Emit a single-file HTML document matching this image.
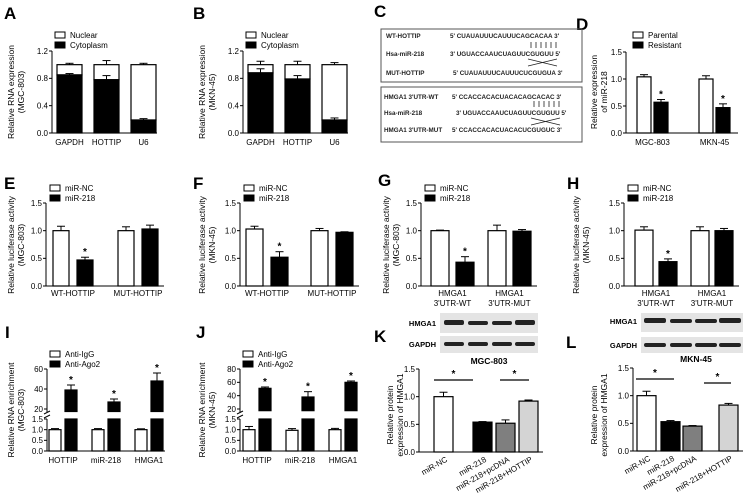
<!DOCTYPE html>
<html><head><meta charset="utf-8"><style>
body{margin:0;background:#fff}
svg{display:block;font-family:"Liberation Sans",Arial,sans-serif}
</style></head><body>
<svg id="fig" width="752" height="494" viewBox="0 0 752 494" xmlns="http://www.w3.org/2000/svg">
<g font-weight="bold" font-size="17">
<text x="4" y="19">A</text><text x="193" y="19">B</text><text x="374" y="17">C</text><text x="576" y="30">D</text>
<text x="4" y="189">E</text><text x="193" y="189">F</text><text x="378" y="186">G</text><text x="567" y="189">H</text>
<text x="5" y="338">I</text><text x="196" y="338">J</text><text x="374" y="342">K</text><text x="566" y="348">L</text>
</g>
<g font-size="6.3" font-weight="bold" fill="#222">
<rect x="381" y="29" width="201" height="53" fill="none" stroke="#555"/>
<rect x="381" y="87" width="201" height="55" fill="none" stroke="#555"/>
<text x="386" y="38">WT-HOTTIP</text><text x="450" y="38">5' CUAUAUUUCAUUUCAGCACAA 3'</text>
<text x="386" y="56">Hsa-miR-218</text><text x="450" y="56">3' UGUACCAAUCUAGUUCGUGUU 5'</text>
<text x="386" y="75">MUT-HOTTIP</text><text x="453" y="75">5' CUAUAUUUCAUUUCUCGUGUA 3'</text>
<text x="384" y="99">HMGA1 3'UTR-WT</text><text x="452" y="99">5' CCACCACACUACACAGCACAC 3'</text>
<text x="384" y="115">Hsa-miR-218</text><text x="456" y="115">3' UGUACCAAUCUAGUUCGUGUU 5'</text>
<text x="384" y="132">HMGA1 3'UTR-MUT</text><text x="452" y="132">5' CCACCACACUACACUCGUGUC 3'</text>
<g stroke="#222" stroke-width="0.8">
<path d="M531 42v6M536 42v6M541 42v6M546 42v6M551 42v6M556 42v6"/>
<path d="M528 59L557 66M528 66L557 59"/>
<path d="M534 101v6M539 101v6M544 101v6M549 101v6M554 101v6M559 101v6"/>
<path d="M531 118L560 125M531 125L560 118"/>
</g></g>
<g>
<rect x="440" y="313" width="98" height="20" fill="#e4e4e4"/><rect x="440" y="336" width="98" height="17" fill="#e4e4e4"/>
<rect x="641" y="313" width="102" height="19" fill="#e4e4e4"/><rect x="641" y="337" width="102" height="16" fill="#e4e4e4"/>
<g fill="#222">
<rect x="444" y="320" width="20" height="5" rx="2"/><rect x="468" y="321" width="20" height="4" rx="2"/><rect x="492" y="321" width="20" height="4" rx="2"/><rect x="515" y="320" width="20" height="5" rx="2"/>
<rect x="444" y="342" width="20" height="4" rx="2"/><rect x="468" y="342" width="20" height="4" rx="2"/><rect x="492" y="342" width="20" height="4" rx="2"/><rect x="515" y="342" width="20" height="4" rx="2"/>
<rect x="644" y="318" width="22" height="5" rx="2"/><rect x="670" y="319" width="22" height="4" rx="2"/><rect x="695" y="319" width="22" height="4" rx="2"/><rect x="719" y="318" width="22" height="5" rx="2"/>
<rect x="644" y="343" width="22" height="4" rx="2"/><rect x="670" y="343" width="22" height="4" rx="2"/><rect x="695" y="343" width="22" height="4" rx="2"/><rect x="719" y="343" width="22" height="4" rx="2"/>
</g>
<g font-size="7.5" font-weight="bold" text-anchor="end">
<text x="436" y="326">HMGA1</text><text x="436" y="347">GAPDH</text>
<text x="637" y="324">HMGA1</text><text x="637" y="348">GAPDH</text>
</g>
<g font-size="8.5" font-weight="bold" text-anchor="middle"><text x="489" y="364">MGC-803</text><text x="696" y="362">MKN-45</text></g>
</g>
</svg>
<script>
// ---- data ----
const catsA = ["GAPDH","HOTTIP","U6"];
const cytoA = [0.85,0.78,0.19], cytoErrA = [0.02,0.06,0.02], totalErrA = [0.02,0.06,0.02];
const cytoB = [0.88,0.79,0.19], cytoErrB = [0.06,0.05,0.03], totalErrB = [0.05,0.05,0.03];
const ticksA = [0,0.4,0.8,1.2];
const catsD = ["MGC-803","MKN-45"];
const parentalD = [1.04,1.00], parentalErrD = [0.04,0.06];
const resistantD = [0.57,0.47], resistantErrD = [0.05,0.07];
const ticks15 = [0,0.5,1.0,1.5];
const catsEF = ["WT-HOTTIP","MUT-HOTTIP"];
const catsGH = ["HMGA1|3'UTR-WT","HMGA1|3'UTR-MUT"];
const ncE=[1.0,1.0], ncErrE=[0.08,0.07], mirE=[0.47,1.03], mirErrE=[0.05,0.07];
const ncF=[1.03,1.0], ncErrF=[0.05,0.04], mirF=[0.52,0.97], mirErrF=[0.1,0.01];
const ncG=[1.0,1.0], ncErrG=[0.01,0.1], mirG=[0.43,0.99], mirErrG=[0.1,0.03];
const ncH=[1.01,1.0], ncErrH=[0.06,0.07], mirH=[0.44,1.0], mirErrH=[0.05,0.04];
const catsIJ = ["HOTTIP","miR-218","HMGA1"];
const iggI=[1.0,1.0,1.0], iggErrI=[0.05,0.05,0.04], agoI=[39,27,48], agoErrI=[5,3,8];
const iggJ=[1.0,0.97,1.0], iggErrJ=[0.15,0.08,0.06], agoJ=[51,38,60], agoErrJ=[2,8,2];
const lowTicksIJ=[0,0.5,1.0,1.5], upTicksI=[20,40,60], upTicksJ=[20,40,60,80];
const catsKL = ["miR-NC","miR-218","miR-218+pcDNA","miR-218+HOTTIP"];
const valK=[1.0,0.54,0.52,0.92], errK=[0.08,0.01,0.06,0.02];
const valL=[1.0,0.53,0.45,0.83], errL=[0.08,0.02,0.01,0.03];
const fillsKL=["#fff","#000","#7f7f7f","#d4d4d4"];

// ---- drawing ----
const svg=document.getElementById('fig');
const NS="http://www.w3.org/2000/svg";
function el(tag,attrs,parent,txt){const e=document.createElementNS(NS,tag);for(const k in attrs)e.setAttribute(k,attrs[k]);if(txt!==undefined)e.textContent=txt;(parent||svg).appendChild(e);return e;}
function scale(y0,y1,v0,v1){return v=>y0+(v-v0)*(y1-y0)/(v1-v0);}
function yAxis(g,x,ys,ticks,fmt,y0,y1){
  el('line',{x1:x,x2:x,y1:y0,y2:y1,stroke:'#000','stroke-width':1},g);
  ticks.forEach(t=>{const y=ys(t);el('line',{x1:x-3,x2:x,y1:y,y2:y,stroke:'#000'},g);
    const tx=el('text',{x:x-4,y:y+2.8,'font-size':8,'text-anchor':'end'},g,fmt(t));
    
    });
}
function yTitle(g,x,y,lines){lines.forEach((l,i)=>{const t=el('text',{x:0,y:0,'font-size':8.5,'text-anchor':'middle',transform:`translate(${x+i*10},${y}) rotate(-90)`},g,l);
  
  });}
function bar(g,x,w,ys,v,err,fill,from){const y=ys(v),yb=ys(from||0);
  if(err){el('line',{x1:x+w/2,x2:x+w/2,y1:y,y2:ys(v+err),stroke:'#000'},g);el('line',{x1:x+w/2-4,x2:x+w/2+4,y1:ys(v+err),y2:ys(v+err),stroke:'#000'},g);}
  const r=el('rect',{x:x,y:Math.min(y,yb),width:w,height:Math.abs(yb-y),fill:fill,stroke:'#000','stroke-width':1.2},g);
  
  
  return y;}
function legend(g,x,y,labels,fills){labels.forEach((l,i)=>{el('rect',{x:x,y:y+i*10-6,width:10,height:6,fill:fills[i],stroke:'#000'},g);
  const t=el('text',{x:x+15,y:y+i*10,'font-size':8},g,l);
  
  });}
function star(g,x,y){el('text',{x:x,y:y,'font-size':10,'text-anchor':'middle','font-weight':'bold'},g,'*');}
function catLabel(g,x,y,s){s.split('|').forEach((p,i)=>{const t=el('text',{x:x,y:y+i*10,'font-size':8,'text-anchor':'middle'},g,p);
  
  });}
function fmt1(t){return t.toFixed(1);}

// A, B stacked
function stacked(name,ax,cyto,cErr,tErr,sub,titleX){
  const g=el('g',{});
  const ys=scale(133,51,0,1.2);
  yAxis(g,ax,ys,ticksA,fmt1,51,133);
  el('line',{x1:ax,x2:ax+105,y1:133,y2:133,stroke:'#000'},g);
  cyto.forEach((c,i)=>{const x=ax+5+i*37;
    bar(g,x,25,ys,1,tErr[i],'#fff',c);bar(g,x,25,ys,c,cErr[i],'#000');catLabel(g,x+12.5,145,catsA[i]);});
  legend(g,ax+3,38,["Nuclear","Cytoplasm"],["#fff","#000"]);
  yTitle(g,titleX,92,["Relative RNA expression",sub]);
}
stacked('panel-a-chart',52,cytoA,cytoErrA,totalErrA,"(MGC-803)",14);
stacked('panel-b-chart',243,cytoB,cytoErrB,totalErrB,"(MKN-45)",205);

// D
(function(){const g=el('g',{});
 const ys=scale(133,52,0,1.5),ax=626;yAxis(g,ax,ys,ticks15,fmt1,52,133);
 el('line',{x1:ax,x2:738,y1:133,y2:133,stroke:'#000'},g);
 catsD.forEach((c,i)=>{const x=637+i*62;bar(g,x,14,ys,parentalD[i],parentalErrD[i],'#fff');
  const y=bar(g,x+17,14,ys,resistantD[i],resistantErrD[i],'#000');star(g,x+24,ys(resistantD[i]+resistantErrD[i])-2);catLabel(g,x+15.5,145,c);});
 legend(g,633,38,["Parental","Resistant"],["#fff","#000"]);
 yTitle(g,597,92,["Relative expression","of miR-218"]);})();

// E-H
function luc(name,ax,bx,w,gap,grpGap,nc,ncE_,mir,mirE_,cats,sub,yTop,yBot,legY,titleX){
 const g=el('g',{});
 const ys=scale(yBot,yTop,0,1.5);yAxis(g,ax,ys,ticks15,fmt1,yTop,yBot);
 el('line',{x1:ax,x2:bx+grpGap+2*w+gap+6,y1:yBot,y2:yBot,stroke:'#000'},g);
 nc.forEach((v,i)=>{const x=bx+i*grpGap;bar(g,x,w,ys,v,ncE_[i],'#fff');bar(g,x+w+gap,w,ys,mir[i],mirE_[i],'#000');
  if(i===0)star(g,x+w+gap+w/2,ys(mir[i]+mirE_[i])-2);catLabel(g,x+w+gap/2,yBot+10,cats[i]);});
 legend(g,ax+4,legY,["miR-NC","miR-218"],["#fff","#000"]);
 yTitle(g,titleX,245,["Relative luciferase activity",sub]);}
luc('panel-e-chart',46,53,16,8,65,ncE,ncErrE,mirE,mirErrE,catsEF,"(MGC-803)",203,286,191,14);
luc('panel-f-chart',240,246,17,8,65,ncF,ncErrF,mirF,mirErrF,catsEF,"(MKN-45)",203,286,191,205);
luc('panel-g-chart',421,431,18,7,57,ncG,ncErrG,mirG,mirErrG,catsGH,"(MGC-803)",203,286,191,389);
luc('panel-h-chart',624,635,18,6,56,ncH,ncErrH,mirH,mirErrH,catsGH,"(MKN-45)",203,286,191,579);

// I, J broken axis
function rip(name,ax,bx,igg,iggE,ago,agoE,upTicks,upMax,sub,titleX){
 const g=el('g',{});
 const lo=scale(451,419,0,1.5),up=scale(409,369,20,upMax);
 yAxis(g,ax,lo,lowTicksIJ,fmt1,419,451);
 yAxis(g,ax,up,upTicks,t=>String(t),369,412);
 el('line',{x1:ax,x2:ax+118,y1:451,y2:451,stroke:'#000'},g);
 el('line',{x1:ax-3,x2:ax+3,y1:414,y2:411,stroke:'#000'},g);el('line',{x1:ax-3,x2:ax+3,y1:418,y2:415,stroke:'#000'},g);
 igg.forEach((v,i)=>{const x=bx+i*43;bar(g,x,12,lo,v,iggE[i],'#fff');
  bar(g,x+16,12,lo,1.5,0,'#000');
  bar(g,x+16,12,up,ago[i],agoE[i],'#000',17.5);
  star(g,x+22,up(ago[i]+agoE[i])-2);catLabel(g,x+14,463,catsIJ[i]);});
 legend(g,ax+3,357,["Anti-IgG","Anti-Ago2"],["#fff","#000"]);
 yTitle(g,titleX,410,["Relative RNA enrichment",sub]);}
rip('panel-i-chart',47,49,iggI,iggErrI,agoI,agoErrI,upTicksI,60,"(MGC-803)",14);
rip('panel-j-chart',240,243,iggJ,iggErrJ,agoJ,agoErrJ,upTicksJ,80,"(MKN-45)",205);

// K, L
function prot(name,ax,xs,vals,errs,yTop,yBot,sig,titleX){
 const g=el('g',{});
 const ys=scale(yBot,yTop,0,1.5);yAxis(g,ax,ys,ticks15,fmt1,yTop,yBot);
 el('line',{x1:ax,x2:xs[3]+24,y1:yBot,y2:yBot,stroke:'#000'},g);
 vals.forEach((v,i)=>{bar(g,xs[i],19,ys,v,errs[i],fillsKL[i]);
  const t=el('text',{x:0,y:0,'font-size':8,'text-anchor':'end',transform:`translate(${xs[i]+14},${yBot+9}) rotate(-30)`},g,catsKL[i]);
  
  });
 sig.forEach(s=>{el('line',{x1:s[0],x2:s[1],y1:s[2],y2:s[2],stroke:'#000','stroke-width':1.2},g);star(g,(s[0]+s[1])/2,s[2]-3);});
 yTitle(g,titleX,415,["Relative protein","expression of HMGA1"]);}
prot('panel-k-chart',419,[434,473,496,519],valK,errK,369,452,[[434,473,380],[500,529,380]],393);
prot('panel-l-chart',633,[637,661,683,719],valL,errL,368,451,[[636,674,379],[704,731,383]],597);
</script>
</body></html>
